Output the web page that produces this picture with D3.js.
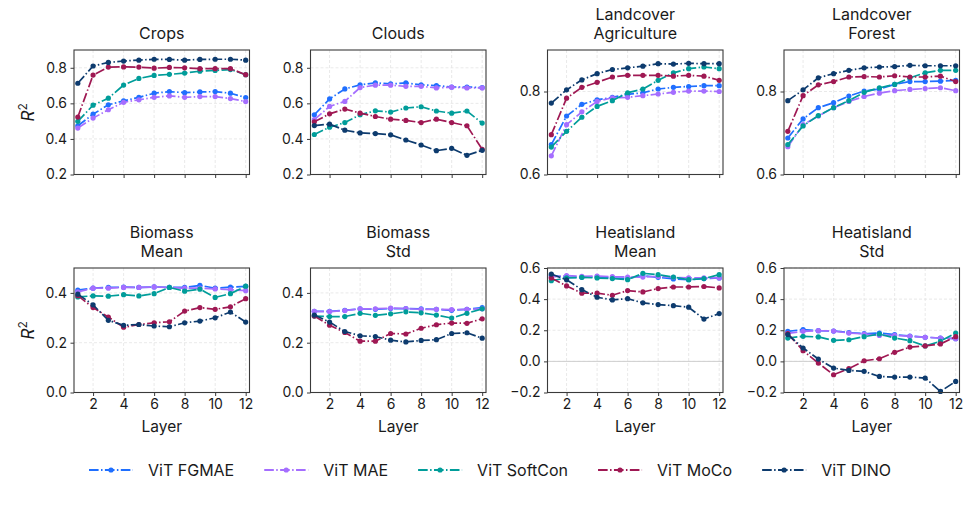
<!DOCTYPE html>
<html><head><meta charset="utf-8">
<script src="https://cdn.jsdelivr.net/npm/d3@7"></script>
<style>
body{margin:0;background:#fff}
svg{display:block}
text{font-family:Inter,"Noto Sans",sans-serif;fill:#1a1a1a}
</style>
</head><body>
<svg id="chart" width="970" height="505"></svg>
<script>
// ---------- data ----------
const layers = [1,2,3,4,5,6,7,8,9,10,11,12];
const xTickValues = [2,4,6,8,10,12];
const seriesNames = ["ViT FGMAE","ViT MAE","ViT SoftCon","ViT MoCo","ViT DINO"];
const seriesColors = ["#1f6fff","#a56eff","#009d9a","#9f1853","#0d3b6e"];

// each panel: arrays in seriesNames order
const crops = [
  [0.474,0.539,0.592,0.614,0.634,0.657,0.666,0.660,0.664,0.666,0.657,0.633],
  [0.461,0.517,0.564,0.606,0.620,0.634,0.642,0.634,0.638,0.638,0.627,0.610],
  [0.499,0.590,0.629,0.703,0.740,0.757,0.763,0.770,0.781,0.785,0.790,0.761],
  [0.523,0.759,0.804,0.805,0.804,0.798,0.802,0.800,0.795,0.795,0.795,0.761],
  [0.713,0.810,0.830,0.838,0.843,0.848,0.847,0.843,0.847,0.848,0.848,0.843]
];
const clouds = [
  [0.536,0.625,0.681,0.704,0.715,0.709,0.715,0.704,0.700,0.692,0.692,0.689],
  [0.508,0.583,0.611,0.689,0.702,0.702,0.696,0.696,0.687,0.691,0.687,0.687],
  [0.425,0.466,0.492,0.536,0.558,0.551,0.574,0.581,0.557,0.545,0.557,0.489],
  [0.496,0.541,0.568,0.545,0.526,0.511,0.504,0.492,0.511,0.492,0.474,0.342],
  [0.475,0.483,0.449,0.434,0.430,0.423,0.394,0.366,0.334,0.347,0.308,0.336]
];
const landAgri = [
  [0.672,0.741,0.769,0.780,0.786,0.793,0.797,0.806,0.810,0.812,0.814,0.814],
  [0.645,0.720,0.751,0.776,0.785,0.786,0.790,0.794,0.798,0.801,0.801,0.800],
  [0.666,0.704,0.738,0.764,0.778,0.797,0.806,0.827,0.845,0.855,0.859,0.855],
  [0.696,0.784,0.810,0.822,0.835,0.839,0.839,0.839,0.837,0.839,0.837,0.827],
  [0.772,0.804,0.828,0.843,0.853,0.857,0.861,0.867,0.866,0.868,0.867,0.867]
];
const landForest = [
  [0.688,0.734,0.761,0.773,0.789,0.801,0.806,0.817,0.824,0.824,0.825,0.827],
  [0.667,0.720,0.741,0.761,0.776,0.788,0.796,0.802,0.805,0.807,0.809,0.802],
  [0.672,0.717,0.742,0.761,0.778,0.798,0.809,0.817,0.833,0.845,0.851,0.851],
  [0.704,0.790,0.816,0.824,0.835,0.836,0.835,0.838,0.835,0.835,0.837,0.824],
  [0.778,0.804,0.833,0.843,0.851,0.857,0.859,0.860,0.863,0.862,0.862,0.862]
];
const biomassMean = [
  [0.411,0.419,0.422,0.423,0.422,0.424,0.422,0.422,0.430,0.419,0.423,0.426],
  [0.404,0.419,0.419,0.422,0.422,0.424,0.422,0.419,0.419,0.416,0.413,0.409],
  [0.384,0.388,0.387,0.393,0.388,0.397,0.422,0.407,0.415,0.382,0.397,0.427],
  [0.389,0.341,0.303,0.262,0.273,0.280,0.284,0.327,0.341,0.334,0.344,0.377],
  [0.395,0.352,0.290,0.270,0.273,0.267,0.264,0.280,0.287,0.300,0.323,0.283]
];
const biomassStd = [
  [0.326,0.326,0.330,0.336,0.334,0.337,0.337,0.336,0.334,0.330,0.334,0.341],
  [0.326,0.325,0.329,0.336,0.336,0.339,0.337,0.334,0.334,0.333,0.334,0.336],
  [0.307,0.305,0.305,0.318,0.310,0.316,0.324,0.320,0.311,0.299,0.318,0.336],
  [0.307,0.270,0.241,0.206,0.206,0.237,0.235,0.258,0.272,0.279,0.278,0.296],
  [0.311,0.283,0.245,0.228,0.225,0.210,0.203,0.209,0.212,0.237,0.240,0.218]
];
const heatMean = [
  [0.553,0.540,0.540,0.543,0.536,0.532,0.551,0.540,0.530,0.525,0.532,0.536],
  [0.542,0.551,0.546,0.548,0.544,0.542,0.542,0.546,0.540,0.536,0.536,0.536],
  [0.518,0.536,0.540,0.536,0.532,0.525,0.566,0.557,0.542,0.525,0.532,0.557],
  [0.536,0.485,0.438,0.438,0.425,0.455,0.446,0.468,0.478,0.478,0.481,0.472],
  [0.561,0.524,0.461,0.412,0.395,0.403,0.376,0.365,0.358,0.348,0.272,0.307]
];
const heatStd = [
  [0.193,0.204,0.197,0.195,0.185,0.178,0.182,0.172,0.163,0.155,0.150,0.146],
  [0.180,0.193,0.197,0.195,0.182,0.176,0.167,0.167,0.161,0.155,0.150,0.146],
  [0.150,0.161,0.157,0.135,0.139,0.159,0.176,0.150,0.133,0.099,0.129,0.182],
  [0.178,0.069,-0.011,-0.086,-0.047,0.004,0.017,0.058,0.092,0.099,0.112,0.159],
  [0.172,0.086,0.015,-0.043,-0.058,-0.064,-0.097,-0.101,-0.101,-0.107,-0.193,-0.129]
];

const panelTitles = [["Crops"],["Clouds"],["Landcover","Agriculture"],["Landcover","Forest"],
                     ["Biomass","Mean"],["Biomass","Std"],["Heatisland","Mean"],["Heatisland","Std"]];
const panelData = [crops,clouds,landAgri,landForest,biomassMean,biomassStd,heatMean,heatStd];
const yDomains = [[0.2,0.9],[0.2,0.9],[0.6,0.9],[0.6,0.9],[0,0.5],[0,0.5],[-0.2,0.6],[-0.2,0.6]];
const yTickSets = [[0.2,0.4,0.6,0.8],[0.2,0.4,0.6,0.8],[0.6,0.8],[0.6,0.8],
                   [0.0,0.2,0.4],[0.0,0.2,0.4],[-0.2,0.0,0.2,0.4,0.6],[-0.2,0.0,0.2,0.4,0.6]];

// ---------- layout ----------
const colLeft = [74, 310.5, 547.5, 784];
const rowTop = [50, 268];
const W = 175.5, H = 124.5;
const dash = "9.6,2.4,1.5,2.4";

const svg = d3.select("#chart");
const fmt = d3.format(".1f");

panelData.forEach((data, i) => {
  const row = Math.floor(i/4), col = i%4;
  const L = colLeft[col], T = rowTop[row];
  const x = d3.scaleLinear().domain([0.75,12.25]).range([L, L+W]);
  const y = d3.scaleLinear().domain(yDomains[i]).range([T+H, T]);
  const g = svg.append("g");

  // grid
  g.selectAll(".gx").data(xTickValues).join("line")
    .attr("x1", d=>x(d)).attr("x2", d=>x(d)).attr("y1", T).attr("y2", T+H)
    .attr("stroke","#e3e3e3").attr("stroke-width",0.8).attr("stroke-dasharray","3,2");
  g.selectAll(".gy").data(yTickSets[i]).join("line")
    .attr("x1", L).attr("x2", L+W).attr("y1", d=>y(d)).attr("y2", d=>y(d))
    .attr("stroke","#e3e3e3").attr("stroke-width",0.8).attr("stroke-dasharray","3,2");
  if (yDomains[i][0] < 0) {
    g.append("line").attr("x1",L).attr("x2",L+W).attr("y1",y(0)).attr("y2",y(0))
      .attr("stroke","#cfcfcf").attr("stroke-width",1);
  }

  // series
  const line = d3.line().x((d,j)=>x(layers[j])).y(d=>y(d));
  data.forEach((vals, s) => {
    g.append("path").datum(vals).attr("d", line).attr("fill","none")
      .attr("stroke", seriesColors[s]).attr("stroke-width",1.7).attr("stroke-dasharray",dash);
    g.selectAll(null).data(vals).join("circle")
      .attr("cx",(d,j)=>x(layers[j])).attr("cy",d=>y(d)).attr("r",2.6)
      .attr("fill",seriesColors[s]);
  });

  // frame
  g.append("rect").attr("x",L).attr("y",T).attr("width",W).attr("height",H)
    .attr("fill","none").attr("stroke","#3a3a3a").attr("stroke-width",1.1);

  // axes
  const ya = g.append("g").attr("transform",`translate(${L},0)`)
    .call(d3.axisLeft(y).tickValues(yTickSets[i]).tickSize(3.5).tickPadding(3.5).tickFormat(fmt));
  const xa = g.append("g").attr("transform",`translate(0,${T+H})`)
    .call(d3.axisBottom(x).tickValues(xTickValues).tickSize(3.5).tickPadding(3.5)
      .tickFormat(row===0 ? "" : d3.format("d")));
  [ya,xa].forEach(a=>{
    a.select(".domain").remove();
    a.selectAll("line").attr("stroke","#3a3a3a");
    a.selectAll("text").style("font-size","14px").style("font-family","Inter,'Noto Sans',sans-serif").attr("fill","#1a1a1a");
  });

  // title
  const lines = panelTitles[i];
  const base = T - 11;
  lines.forEach((t, k) => {
    g.append("text").attr("x", L+W/2).attr("y", base - (lines.length-1-k)*19)
      .attr("text-anchor","middle").style("font-size","16px").text(t);
  });

  if (row===1) {
    g.append("text").attr("x", L+W/2).attr("y", T+H+39).attr("text-anchor","middle")
      .style("font-size","15.5px").text("Layer");
  }
  if (col===0) {
    const t = g.append("text").attr("transform",`translate(34,${T+H/2}) rotate(-90)`)
      .attr("text-anchor","middle").style("font-size","17px");
    t.append("tspan").style("font-style","italic").text("R");
    t.append("tspan").attr("dy",-7).style("font-size","12px").text("2");
  }
});

// ---------- legend ----------
const leg = svg.append("g");
let cx = 0;
const items = [];
const legGap = 30;
seriesNames.forEach((name, s) => {
  const it = leg.append("g");
  it.append("line").attr("x1",0).attr("x2",44).attr("y1",0).attr("y2",0)
    .attr("stroke",seriesColors[s]).attr("stroke-width",1.8).attr("stroke-dasharray",dash);
  it.append("circle").attr("cx",22).attr("cy",0).attr("r",2.6).attr("fill",seriesColors[s]);
  const tx = it.append("text").attr("x",59).attr("y",5.8).style("font-size","16px").text(name);
  const w = 59 + tx.node().getComputedTextLength();
  items.push({it, x: cx});
  cx += w + legGap;
});
const total = cx - legGap;
const start = 490 - total/2;
items.forEach(d => d.it.attr("transform",`translate(${start + d.x},470)`));
</script>
</body></html>
